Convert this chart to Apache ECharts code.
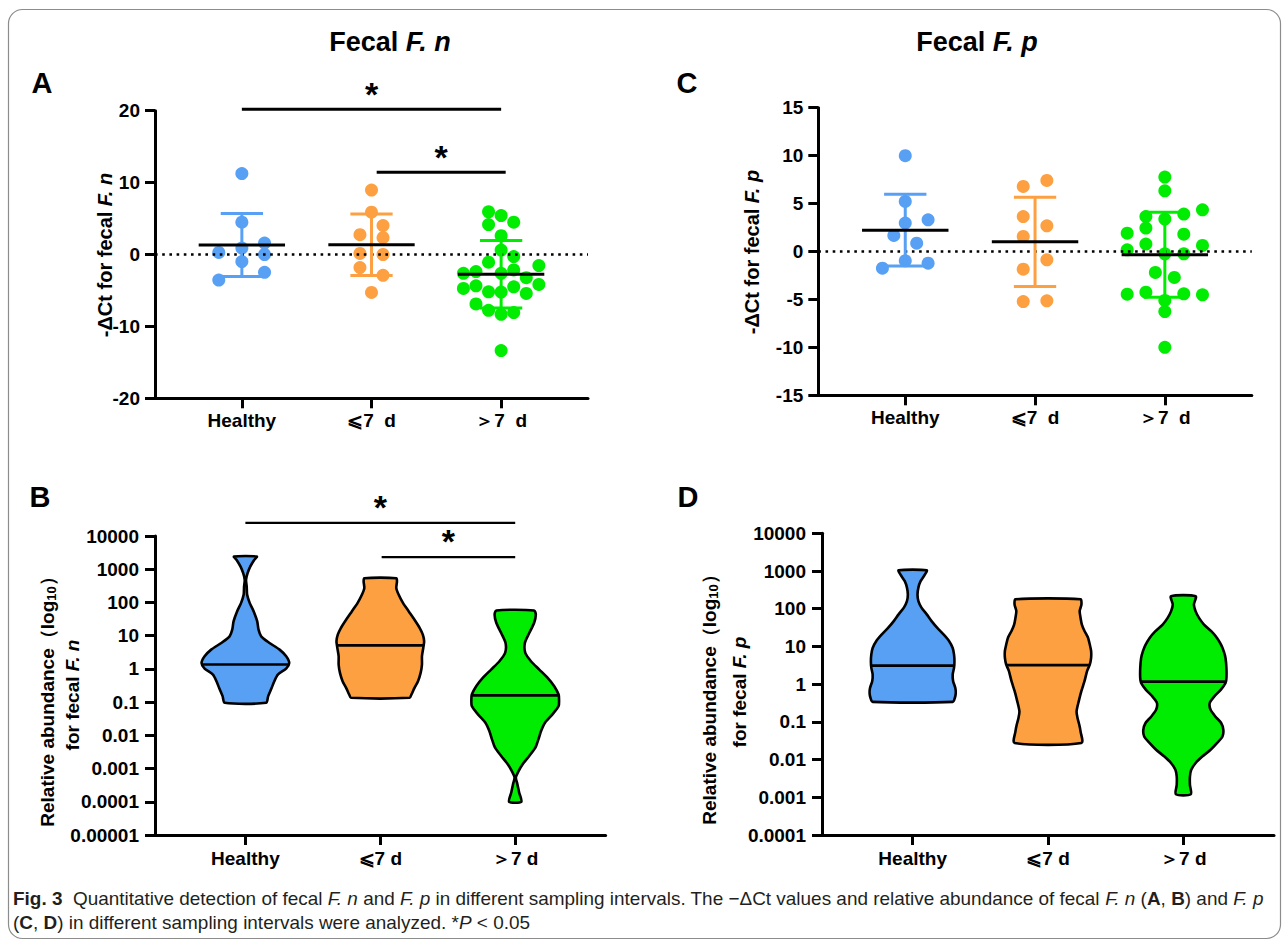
<!DOCTYPE html>
<html><head><meta charset="utf-8">
<script src="https://cdn.jsdelivr.net/npm/echarts@6/dist/echarts.min.js"></script>
<style>html,body{margin:0;padding:0;background:#fff}#c{width:1284px;height:942px}</style>
</head><body><div id="c"></div>
<script>
// ---------------- DATA ----------------
const categoriesTop = ['Healthy', '⩽7  d', '＞7  d'];
const categoriesBottom = ['Healthy', '⩽7 d', '＞7 d'];

// Panel A: -ΔCt for fecal F. n (values) + horizontal scatter spread (category units)
const A_healthy = [11.26, 4.49, 1.59, 0.89, 0.28, 0.0, -0.98, -2.48, -3.55];
const A_healthySpread = [0, 0, 0.175, 0, -0.178, 0.175, 0, 0.175, -0.178];
const A_short = [8.97, 5.89, 4.02, 2.76, 2.34, 0.14, 0.0, -1.82, -2.9, -5.28];
const A_shortSpread = [0, 0, 0.089, -0.089, 0.089, -0.089, 0.089, -0.089, 0.089, 0];
const A_long = [5.93, 5.42, 4.49, 4.16, 2.62, 0.61, -0.28, -1.07, -1.54, -2.62, -2.38, -2.62, -2.15, -3.22, -4.72, -4.35, -5.19, -5.23, -4.49, -5.42, -4.16, -6.87, -7.76, -8.32, -8.08, -13.36];
const A_longSpread = [-0.097, 0, 0.097, -0.097, 0, 0, 0.097, -0.097, 0.291, -0.291, -0.194, 0, 0.097, 0.194, -0.291, -0.194, -0.097, 0, 0.097, 0.194, 0.291, -0.194, -0.097, 0, 0.097, 0];
const A_mean = [1.33, 1.37, -2.75];
const A_sd = [4.38, 4.28, 4.68];
const A_yTicks = [-20, -10, 0, 10, 20];

// Panel C: -ΔCt for fecal F. p
const C_healthy = [9.99, 5.22, 3.31, 2.96, 1.67, 0.87, -0.97, -1.22, -1.74];
const C_healthySpread = [0, 0, 0.176, 0, -0.088, 0.088, 0, 0.176, -0.176];
const C_short = [7.41, 6.79, 3.65, 2.68, 1.57, -0.87, -1.84, -5.22, -5.15];
const C_shortSpread = [0.091, -0.091, -0.091, 0.091, -0.091, 0.091, -0.091, -0.091, 0.091];
const C_long = [7.76, 6.33, 4.35, 3.9, 3.65, 3.38, 2.44, 1.91, 1.81, 0.77, 0.17, 0.63, -0.24, -0.24, -2.19, -2.71, -4.45, -4.24, -4.42, -4.52, -5.11, -6.26, -9.99];
const C_longSpread = [0, 0, 0.29, 0.146, -0.146, 0, -0.146, -0.29, 0.146, -0.146, -0.29, 0.29, 0, 0.146, -0.073, 0.073, -0.29, -0.146, 0.146, 0.29, 0, 0, 0];
const C_mean = [2.22, 1.01, -0.33];
const C_sd = [3.74, 4.66, 4.43];
const C_yTicks = [-15, -10, -5, 0, 5, 10, 15];

// Panel B: violin outlines of relative abundance of F. n: [log10 value, relative density width]
const B_healthyProfile = [[3.38,0.26],[3.28,0.2],[3.08,0.11],[2.88,0.05],[2.68,0.015],[2.48,0.03],[2.23,0.04],[1.98,0.1],[1.73,0.19],[1.43,0.27],[1.18,0.30],[0.98,0.36],[0.78,0.55],[0.58,0.78],[0.38,0.93],[0.18,1.0],[0.01,0.93],[-0.17,0.74],[-0.37,0.66],[-0.57,0.6],[-0.82,0.52],[-1.02,0.47]];
const B_shortProfile = [[2.73,0.365],[2.63,0.38],[2.43,0.365],[2.23,0.42],[1.98,0.52],[1.73,0.65],[1.48,0.78],[1.23,0.9],[1.03,0.97],[0.83,1.0],[0.63,0.98],[0.38,0.95],[0.13,0.95],[-0.12,0.92],[-0.37,0.86],[-0.57,0.78],[-0.77,0.71],[-0.87,0.67]];
const B_longProfile = [[1.76,0.43],[1.63,0.47],[1.38,0.43],[1.08,0.32],[0.78,0.22],[0.48,0.23],[0.23,0.36],[-0.02,0.55],[-0.27,0.74],[-0.52,0.89],[-0.77,0.99],[-0.92,1.0],[-1.12,0.99],[-1.37,0.85],[-1.62,0.68],[-1.87,0.59],[-2.12,0.53],[-2.37,0.46],[-2.62,0.32],[-2.87,0.17],[-3.07,0.08],[-3.27,0.015],[-3.47,0.05],[-3.72,0.09],[-4.0,0.14]];
const B_median = [1.35, 5.1, 0.16];
const B_yTicks = [0.00001, 0.0001, 0.001, 0.01, 0.1, 1, 10, 100, 1000, 10000];
const B_yTickLabels = ['0.00001', '0.0001', '0.001', '0.01', '0.1', '1', '10', '100', '1000', '10000'];

// Panel D: violin outlines of relative abundance of F. p
const D_healthyProfile = [[3.02,0.32],[2.91,0.28],[2.73,0.18],[2.56,0.13],[2.38,0.11],[2.20,0.13],[2.03,0.2],[1.85,0.32],[1.67,0.43],[1.49,0.56],[1.32,0.7],[1.14,0.83],[0.96,0.91],[0.79,0.94],[0.61,0.95],[0.43,0.94],[0.26,0.91],[0.08,0.92],[-0.10,0.97],[-0.23,0.98],[-0.36,0.96],[-0.47,0.91]];
const D_shortProfile = [[2.25,0.74],[2.11,0.76],[1.94,0.72],[1.76,0.74],[1.58,0.77],[1.41,0.83],[1.23,0.91],[1.05,0.95],[0.88,0.98],[0.70,0.98],[0.52,0.95],[0.35,0.89],[0.08,0.83],[-0.18,0.76],[-0.45,0.70],[-0.72,0.65],[-0.89,0.67],[-1.07,0.71],[-1.25,0.74],[-1.56,0.76]];
const D_longProfile = [[2.33,0.28],[2.11,0.24],[1.93,0.28],[1.75,0.36],[1.58,0.47],[1.40,0.64],[1.22,0.77],[1.04,0.86],[0.87,0.92],[0.69,0.96],[0.42,0.98],[0.16,0.98],[0.03,0.96],[-0.15,0.85],[-0.33,0.70],[-0.50,0.6],[-0.68,0.62],[-0.86,0.73],[-1.03,0.86],[-1.21,0.91],[-1.39,0.89],[-1.56,0.77],[-1.74,0.62],[-1.92,0.43],[-2.09,0.28],[-2.27,0.18],[-2.45,0.15],[-2.67,0.15],[-2.92,0.17]];
const D_median = [3.1, 3.2, 1.17];
const D_yTicks = [0.0001, 0.001, 0.01, 0.1, 1, 10, 100, 1000, 10000];
const D_yTickLabels = ['0.0001', '0.001', '0.01', '0.1', '1', '10', '100', '1000', '10000'];

// significance brackets: [from group, to group, height]
const A_sig = [[1, 3, 20.2], [2.04, 3.035, 11.45]];
const B_sig = [[1, 3.0, 25000], [2.01, 3.0, 2300]];

// caption
const captionLine1 = 'Quantitative detection of fecal F. n and F. p in different sampling intervals. The −ΔCt values and relative abundance of fecal F. n (A, B) and F. p';

// ---------------- STYLE ----------------
const COLORS = ['#57A0F4', '#FDA041', '#00EC00'];
const FONT = 'Liberation Sans';
const VIOLIN_HALF = 0.325, MEAN_HALF = 0.333, CAP_HALF = 0.163;

const chart = echarts.init(document.getElementById('c'), null, {renderer: 'svg', width: 1284, height: 942});

function xAxisCfg(gridIndex, cats, margin) {
  return {
    type: 'value', gridIndex, min: 0.33, max: 3.67,
    axisLine: {show: true, onZero: false, lineStyle: {color: '#000', width: 3}},
    axisTick: {show: true, customValues: [1, 2, 3], length: 10, lineStyle: {color: '#000', width: 3}},
    axisLabel: {customValues: [1, 2, 3], formatter: v => cats[Math.round(v) - 1] || '', color: '#000',
      fontSize: 19, fontWeight: 'bold', fontFamily: FONT, margin},
    splitLine: {show: false}
  };
}
function yValueCfg(gridIndex, ticks) {
  return {
    type: 'value', gridIndex, min: ticks[0], max: ticks[ticks.length - 1], interval: ticks[1] - ticks[0],
    axisLine: {show: true, onZero: false, lineStyle: {color: '#000', width: 3}},
    axisTick: {show: true, length: 10, lineStyle: {color: '#000', width: 3}},
    axisLabel: {color: '#000', fontSize: 19, fontWeight: 'bold', fontFamily: FONT, margin: 15},
    splitLine: {show: false}
  };
}
function yLogCfg(gridIndex, ticks, labels) {
  const fmt = v => {
    const i = ticks.findIndex(t => Math.abs(Math.log10(t) - Math.log10(v)) < 1e-6);
    return i >= 0 ? labels[i] : '';
  };
  return {
    type: 'log', logBase: 10, gridIndex, min: ticks[0], max: ticks[ticks.length - 1],
    axisLine: {show: true, onZero: false, lineStyle: {color: '#000', width: 3}},
    axisTick: {show: true, customValues: ticks, length: 10, lineStyle: {color: '#000', width: 3}},
    axisLabel: {customValues: ticks, formatter: fmt, color: '#000', fontSize: 19, fontWeight: 'bold', fontFamily: FONT, margin: 16},
    splitLine: {show: false}, minorTick: {show: false}
  };
}

function scatterSeries(gi, g, vals, spread, withZero) {
  const s = {
    type: 'scatter', xAxisIndex: gi, yAxisIndex: gi, symbol: 'circle', symbolSize: 13, z: 3,
    itemStyle: {color: COLORS[g], opacity: 1},
    data: vals.map((v, i) => [g + 1 + spread[i], v]), silent: true
  };
  if (withZero) {
    s.markLine = {silent: true, symbol: ['none', 'none'], label: {show: false}, animation: false,
      lineStyle: {type: [2.6, 4.6], color: '#000', width: 2.6, cap: 'butt'}, data: [{yAxis: 0}]};
  }
  return s;
}
function meanSdSeries(gi, means, sds) {
  return {
    type: 'custom', xAxisIndex: gi, yAxisIndex: gi, z: 5, silent: true,
    data: means.map((m, i) => [i + 1, m, sds[i]]),
    renderItem: (params, api) => {
      const x = api.value(0), m = api.value(1), s = api.value(2);
      const col = COLORS[params.dataIndex];
      const t = api.coord([x, m + s]), b = api.coord([x, m - s]);
      const tl = api.coord([x - CAP_HALF, m + s]), tr = api.coord([x + CAP_HALF, m + s]);
      const bl = api.coord([x - CAP_HALF, m - s]), br = api.coord([x + CAP_HALF, m - s]);
      const ml = api.coord([x - MEAN_HALF, m]), mr = api.coord([x + MEAN_HALF, m]);
      const ls = c => ({stroke: c, lineWidth: 3, lineCap: 'butt'});
      return {type: 'group', children: [
        {type: 'line', shape: {x1: t[0], y1: t[1], x2: b[0], y2: b[1]}, style: ls(col)},
        {type: 'line', shape: {x1: tl[0], y1: tl[1], x2: tr[0], y2: tr[1]}, style: ls(col)},
        {type: 'line', shape: {x1: bl[0], y1: bl[1], x2: br[0], y2: br[1]}, style: ls(col)},
        {type: 'line', shape: {x1: ml[0], y1: ml[1], x2: mr[0], y2: mr[1]}, style: ls('#000')}
      ]};
    }
  };
}
function widthAt(profile, lg) {
  for (let i = 0; i < profile.length - 1; i++) {
    const a = profile[i], b = profile[i + 1];
    if (lg <= a[0] && lg >= b[0]) {
      const f = (a[0] - lg) / (a[0] - b[0]);
      return a[1] + f * (b[1] - a[1]);
    }
  }
  return profile[profile.length - 1][1];
}
function violinSeries(gi, profiles, medians) {
  return {
    type: 'custom', xAxisIndex: gi, yAxisIndex: gi, z: 3, silent: true,
    data: medians.map((m, i) => [i + 1, m]),
    renderItem: (params, api) => {
      const idx = params.dataIndex, x = api.value(0), med = api.value(1);
      const prof = profiles[idx];
      const pts = [];
      prof.forEach(p => pts.push(api.coord([x + p[1] * VIOLIN_HALF, Math.pow(10, p[0])])));
      for (let i = prof.length - 1; i >= 0; i--) {
        const p = prof[i];
        pts.push(api.coord([x - p[1] * VIOLIN_HALF, Math.pow(10, p[0])]));
      }
      const w = widthAt(prof, Math.log10(med)) * VIOLIN_HALF;
      const l = api.coord([x - w, med]), r = api.coord([x + w, med]);
      return {type: 'group', children: [
        {type: 'polygon', shape: {points: pts, smooth: 0.25}, style: {fill: COLORS[idx], stroke: '#000', lineWidth: 2.6, lineJoin: 'round'}},
        {type: 'line', shape: {x1: l[0], y1: l[1], x2: r[0], y2: r[1]}, style: {stroke: '#000', lineWidth: 2.6}}
      ]};
    }
  };
}
function sigSeries(gi, sig, lw, dy) {
  return {
    type: 'custom', xAxisIndex: gi, yAxisIndex: gi, z: 6, silent: true, clip: false,
    encode: {x: [0, 1], y: 2},
    data: sig,
    renderItem: (params, api) => {
      const a = api.coord([api.value(0), api.value(2)]), b = api.coord([api.value(1), api.value(2)]);
      return {type: 'group', children: [
        {type: 'line', shape: {x1: a[0], y1: a[1], x2: b[0], y2: b[1]}, style: {stroke: '#000', lineWidth: lw}},
        {type: 'text', x: (a[0] + b[0]) / 2, y: a[1] - dy, style: {text: '*', fontSize: 34, fontWeight: 'bold', fontFamily: FONT, fill: '#000', align: 'center', verticalAlign: 'middle'}}
      ]};
    }
  };
}

function rtext(x, y, text, size, rich, opts) {
  return Object.assign({type: 'text', x, y, silent: true, style: Object.assign({
    text, fontSize: size, fontWeight: 'bold', fontFamily: FONT, fill: '#000', align: 'center', verticalAlign: 'middle', rich
  }, (opts && opts.style) || {})}, (opts && opts.el) || {});
}
const bi = s => ({fontSize: s, fontWeight: 'bold', fontStyle: 'italic', fontFamily: FONT, fill: '#000'});
const bn = s => ({fontSize: s, fontWeight: 'bold', fontFamily: FONT, fill: '#000'});
const ROT = {el: {rotation: Math.PI / 2}};

// caption font size fitted so the first line spans the figure width like the reference
const CAPFONT = 'Liberation Sans';
const CAPSIZE = (() => {
  const ctx = document.createElement('canvas').getContext('2d');
  ctx.font = '20px "Liberation Sans"';
  const w = ctx.measureText('Fig. 3  ' + captionLine1).width;
  const s = 20 * 1248 / w;
  return Math.max(15, Math.min(21, s));
})();
const capRich = {
  b: {fontSize: CAPSIZE, fontWeight: 'bold', fontFamily: CAPFONT, fill: '#231f20'},
  i: {fontSize: CAPSIZE, fontStyle: 'italic', fontFamily: CAPFONT, fill: '#231f20'},
  n: {fontSize: CAPSIZE, fontFamily: CAPFONT, fill: '#231f20'}
};

const option = {
  animation: false,
  backgroundColor: '#fff',
  grid: [
    {left: 155, top: 110.7, width: 433, height: 287.6},
    {left: 818.3, top: 107.7, width: 433.5, height: 287.6},
    {left: 155, top: 536, width: 450.6, height: 299},
    {left: 822, top: 533.3, width: 452, height: 301.7}
  ],
  xAxis: [xAxisCfg(0, categoriesTop, 13), xAxisCfg(1, categoriesTop, 13), xAxisCfg(2, categoriesBottom, 14), xAxisCfg(3, categoriesBottom, 14)],
  yAxis: [yValueCfg(0, A_yTicks), yValueCfg(1, C_yTicks), yLogCfg(2, B_yTicks, B_yTickLabels), yLogCfg(3, D_yTicks, D_yTickLabels)],
  series: [
    scatterSeries(0, 0, A_healthy, A_healthySpread, true),
    scatterSeries(0, 1, A_short, A_shortSpread),
    scatterSeries(0, 2, A_long, A_longSpread),
    meanSdSeries(0, A_mean, A_sd),
    sigSeries(0, A_sig, 3, 15),
    scatterSeries(1, 0, C_healthy, C_healthySpread, true),
    scatterSeries(1, 1, C_short, C_shortSpread),
    scatterSeries(1, 2, C_long, C_longSpread),
    meanSdSeries(1, C_mean, C_sd),
    violinSeries(2, [B_healthyProfile, B_shortProfile, B_longProfile], B_median),
    sigSeries(2, B_sig, 2.2, 16),
    violinSeries(3, [D_healthyProfile, D_shortProfile, D_longProfile], D_median)
  ],
  graphic: [
    {type: 'rect', silent: true, shape: {x: 8.5, y: 9.5, width: 1272, height: 929, r: 14}, style: {fill: 'none', stroke: '#8c8c8c', lineWidth: 1.2}},
    rtext(390, 42, 'Fecal {i|F. n}', 27, {i: bi(27)}),
    rtext(977, 42, 'Fecal {i|F. p}', 27, {i: bi(27)}),
    rtext(42, 83, 'A', 29, {}),
    rtext(687, 83, 'C', 29, {}),
    rtext(40, 497, 'B', 29, {}),
    rtext(688, 497, 'D', 29, {}),
    rtext(105, 255, '-ΔCt for fecal {i|F. n}', 20, {i: bi(20)}, ROT),
    rtext(752, 252, '-ΔCt for fecal {i|F. p}', 20, {i: bi(20)}, ROT),
    rtext(47, 697, '{a|Relative abundance（log}{s|10}{a|）}', 19, {a: bn(19), s: Object.assign(bn(13), {padding: [9, 0, 0, 0]})}, ROT),
    rtext(72, 695, 'for fecal {i|F. n}', 19, {i: bi(19)}, ROT),
    rtext(709, 695, '{a|Relative abundance（log}{s|10}{a|）}', 19, {a: bn(19), s: Object.assign(bn(13), {padding: [9, 0, 0, 0]})}, ROT),
    rtext(739, 692, 'for fecal {i|F. p}', 19, {i: bi(19)}, ROT),
    {type: 'text', x: 13, y: 898, silent: true, style: {
      text: '{b|Fig. 3}{n|  Quantitative detection of fecal }{i|F. n}{n| and }{i|F. p}{n| in different sampling intervals. The −ΔCt values and relative abundance of fecal }{i|F. n}{n| (}{b|A}{n|, }{b|B}{n|) and }{i|F. p}',
      fontSize: CAPSIZE, fontFamily: CAPFONT, fill: '#231f20', align: 'left', verticalAlign: 'middle', rich: capRich}},
    {type: 'text', x: 13, y: 922, silent: true, style: {
      text: '{n|(}{b|C}{n|, }{b|D}{n|) in different sampling intervals were analyzed. *}{i|P}{n| < 0.05}',
      fontSize: CAPSIZE, fontFamily: CAPFONT, fill: '#231f20', align: 'left', verticalAlign: 'middle', rich: capRich}}
  ]
};
chart.setOption(option);
</script></body></html>
